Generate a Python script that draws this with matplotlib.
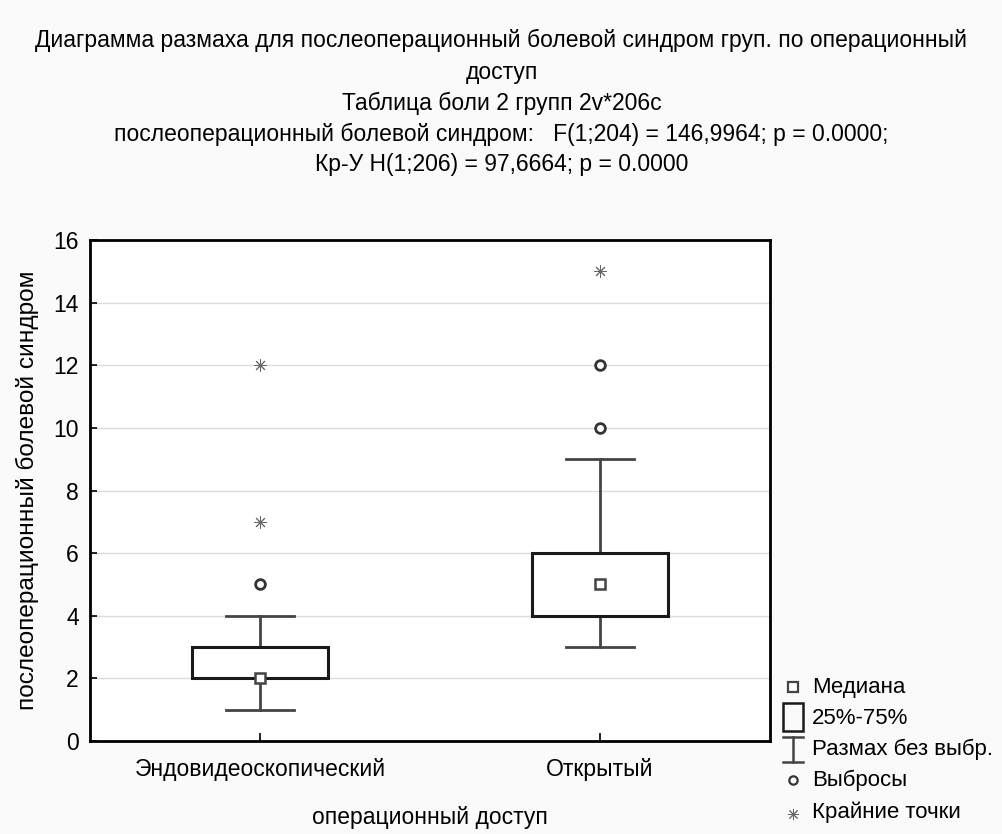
import matplotlib
matplotlib.use("Agg")
import matplotlib.pyplot as plt
from matplotlib.lines import Line2D
from matplotlib.patches import Rectangle

plt.rcParams["font.family"] = ["Liberation Sans", "DejaVu Sans"]

groups = ["Эндовидеоскопический", "Открытый"]
medians = [2, 5]
q1 = [2, 4]
q3 = [3, 6]
whisk_lo = [1, 3]
whisk_hi = [4, 9]
outliers = [[5], [10, 12]]
extremes = [[7, 12], [15]]

title_lines = [
    "Диаграмма размаха для послеоперационный болевой синдром груп. по операционный",
    "доступ",
    "Таблица боли 2 групп 2v*206c",
    "послеоперационный болевой синдром:   F(1;204) = 146,9964; p = 0.0000;",
    "Кр-У H(1;206) = 97,6664; p = 0.0000",
]
legend_labels = ["Медиана", "25%-75%", "Размах без выбр.", "Выбросы", "Крайние точки"]

FS = 16.5
W, H = 1003, 834
fig = plt.figure(figsize=(W / 100, H / 100), dpi=100, facecolor="#fafafa")
ax = fig.add_axes([90 / W, 1 - 741 / H, 680 / W, 501 / H])
ax.set_facecolor("white")

box_w, cap_w = 0.4, 0.2
for i in range(len(groups)):
    ax.add_patch(Rectangle((i - box_w / 2, q1[i]), box_w, q3[i] - q1[i],
                           fill=False, ec="#1a1a1a", lw=2.2, zorder=3))
    ax.plot([i, i], [whisk_lo[i], q1[i]], color="#444444", lw=2, zorder=2)
    ax.plot([i, i], [q3[i], whisk_hi[i]], color="#444444", lw=2, zorder=2)
    for y in (whisk_lo[i], whisk_hi[i]):
        ax.plot([i - cap_w / 2, i + cap_w / 2], [y, y], color="#444444", lw=2, zorder=2)
    ax.plot(i, medians[i], marker="s", ms=7, mfc="white", mec="#444444", mew=1.8, zorder=4)
    ax.plot([i] * len(outliers[i]), outliers[i], ls="none", marker="o", ms=7,
            mfc="white", mec="#333333", mew=2, zorder=4)
    ax.plot([i] * len(extremes[i]), extremes[i], ls="none", marker=(8, 2, 0), ms=9,
            mec="#666666", mew=0.7, zorder=4)

ax.set_xlim(-0.5, 1.5)
ax.set_ylim(0, 16)
ax.set_yticks(range(0, 17, 2))
ax.set_xticks(range(len(groups)))
ax.set_xticklabels(groups, fontsize=FS)
ax.tick_params(axis="y", labelsize=FS, direction="in", length=5, width=1.2, pad=8)
ax.tick_params(axis="x", direction="in", length=6, width=1.2, pad=12)
ax.yaxis.grid(True, color="#dcdcdc", lw=1)
ax.set_axisbelow(True)
for s in ax.spines.values():
    s.set_linewidth(2)
    s.set_color("black")
ax.set_ylabel("послеоперационный болевой синдром", fontsize=17.6, labelpad=10)
ax.set_xlabel("операционный доступ", fontsize=FS, labelpad=18)

title_y = [40, 72, 103, 134, 164]
for txt, y in zip(title_lines, title_y):
    fig.text(0.5, 1 - y / H, txt, ha="center", va="center", fontsize=FS)

# legend drawn in figure pixel coordinates
leg_y = [687, 718, 749, 780, 814]
sx, tx = 793, 812
tr = fig.transFigure
def fx(px):
    return px / W
def fy(py):
    return 1 - py / H
fig.add_artist(Line2D([fx(sx)], [fy(leg_y[0])], marker="s", ms=6.5, mfc="white",
                      mec="#444444", mew=1.6, transform=tr))
fig.add_artist(Rectangle((fx(sx - 10), fy(731)), 20 / W, 28 / H,
                         fill=False, ec="#1a1a1a", lw=1.8, transform=tr))
fig.add_artist(Line2D([fx(sx), fx(sx)], [fy(737), fy(762)],
                      color="#444444", lw=1.8, transform=tr))
for yy in (737, 762):
    fig.add_artist(Line2D([fx(sx - 10), fx(sx + 10)], [fy(yy)] * 2,
                          color="#444444", lw=1.8, transform=tr))
fig.add_artist(Line2D([fx(sx)], [fy(leg_y[3])], marker="o", ms=6, mfc="white",
                      mec="#333333", mew=1.6, transform=tr))
fig.add_artist(Line2D([fx(sx)], [fy(leg_y[4])], marker=(8, 2, 0), ms=8,
                      mec="#666666", mew=0.7, transform=tr))
for lab, y in zip(legend_labels, [687, 718, 749, 780, 812]):
    fig.text(fx(tx), fy(y), lab, ha="left", va="center", fontsize=16)

fig.savefig("out.png", dpi=100, facecolor=fig.get_facecolor())
